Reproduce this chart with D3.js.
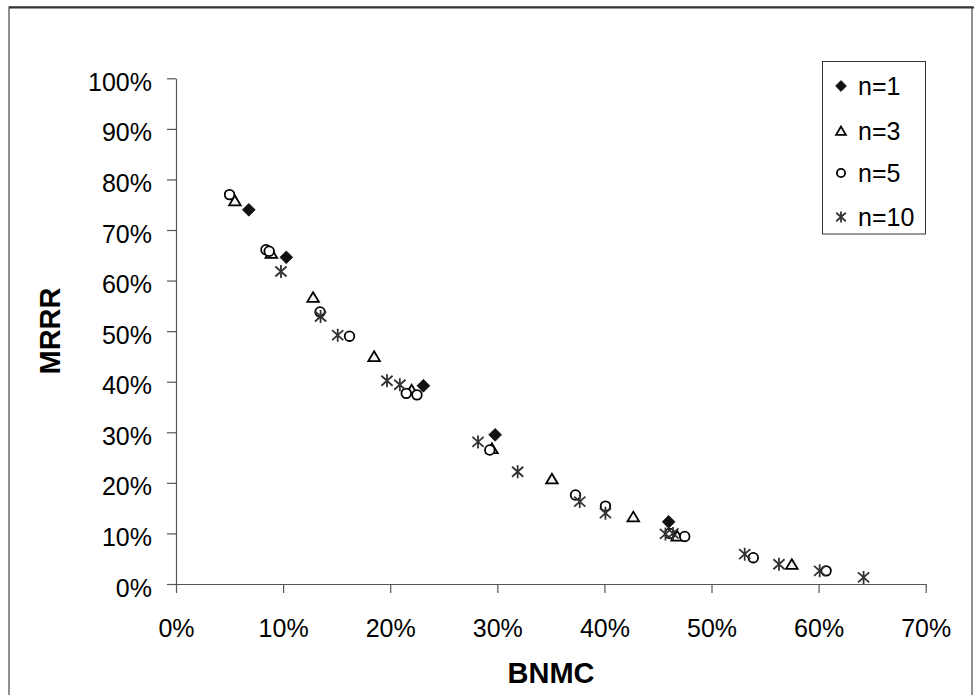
<!DOCTYPE html>
<html><head><meta charset="utf-8">
<script src="https://cdn.jsdelivr.net/npm/d3@7"></script>
<style>body{margin:0;background:#fff}svg{display:block}text{font-family:"Liberation Sans",Arial,sans-serif}</style>
</head><body><svg id="c" width="974" height="695"></svg>
<script>
const xTicks = [0,0.1,0.2,0.3,0.4,0.5,0.6,0.7];
const yTicks = [0,0.1,0.2,0.3,0.4,0.5,0.6,0.7,0.8,0.9,1.0];
const seriesNames = ["n=1","n=3","n=5","n=10"];
const n1 = [[6.8,74.0],[10.3,64.6],[23.1,39.2],[29.8,29.5],[46.0,12.3]];
const n3 = [[5.5,75.8],[8.9,65.4],[12.8,56.7],[18.5,45.0],[22.0,38.4],[29.5,26.8],[35.1,20.8],[42.7,13.3],[46.8,9.5],[57.5,3.9]];
const n5 = [[5.0,77.0],[8.4,66.1],[8.7,65.8],[13.45,53.8],[16.2,49.0],[21.5,37.7],[22.5,37.4],[29.3,26.5],[37.3,17.6],[40.1,15.4],[46.1,10.0],[47.5,9.4],[53.9,5.2],[60.7,2.6]];
const n10 = [[9.8,61.8],[13.5,52.9],[15.1,49.2],[19.7,40.2],[20.9,39.4],[28.2,28.1],[31.9,22.2],[37.7,16.3],[40.1,14.0],[45.7,9.9],[46.4,10.0],[53.1,5.9],[56.3,3.9],[60.1,2.6],[64.2,1.3]];

const svg = d3.select("#c");
// outer frame
svg.append("rect").attr("x",9).attr("y",7).attr("width",963).attr("height",720)
  .attr("fill","none").attr("stroke","#222").attr("stroke-width",1);
svg.append("line").attr("x1",9).attr("x2",974).attr("y1",7.5).attr("y2",7.5).attr("stroke","#333").attr("stroke-width",2);

const x = d3.scaleLinear().domain([0,0.7]).range([176,925.7]);
const y = d3.scaleLinear().domain([0,1]).range([584,78.3]);
const fmt = d3.format(".0%");

const xa = svg.append("g").attr("transform","translate(0,584)")
  .call(d3.axisBottom(x).tickValues(xTicks).tickFormat(fmt).tickSize(9).tickSizeOuter(0));
xa.selectAll("text").attr("font-size",25).attr("fill","#000").attr("dy",null).attr("y",53).attr("font-family","Liberation Sans, Arial, sans-serif");
const ya = svg.append("g").attr("transform","translate(176,0)")
  .call(d3.axisLeft(y).tickValues(yTicks).tickFormat(fmt).tickSize(9).tickSizeOuter(0));
ya.selectAll("text").attr("font-size",25).attr("fill","#000").attr("dy",null).attr("y",12).attr("x",-24).attr("font-family","Liberation Sans, Arial, sans-serif");
svg.selectAll(".domain, .tick line").attr("stroke","#555").attr("stroke-width",1.2);

svg.append("text").attr("x",551).attr("y",683).attr("text-anchor","middle")
  .attr("font-size",29).attr("font-weight","bold").text("BNMC");
svg.append("text").attr("transform","translate(60,331) rotate(-90)").attr("text-anchor","middle")
  .attr("font-size",29).attr("font-weight","bold").text("MRRR");

function marker(g, kind, s){
  s = s || 1;
  if(kind===0){
    const a=6.4*s;
    g.append("path").attr("d",`M0,${-a}L${a},0L0,${a}L${-a},0Z`)
     .attr("fill","#111").attr("stroke","#111").attr("stroke-width",0.8);
  } else if(kind===1){
    const w=5.8*s, h=9.2*s;
    g.append("path").attr("d",`M0,${-h/2-0.5}L${w},${h/2}L${-w},${h/2}Z`)
     .attr("fill","#f4f4f4").attr("stroke","#000").attr("stroke-width",1.8);
  } else if(kind===2){
    g.append("circle").attr("r",4.8*s).attr("fill","#fff").attr("stroke","#000").attr("stroke-width",1.8);
  } else {
    const r=6.5*s, dx=5.6*s, dy=5*s;
    g.append("path").attr("d",`M0,${-r}V${r}M${-dx},${-dy}L${dx},${dy}M${-dx},${dy}L${dx},${-dy}`)
     .attr("stroke","#333").attr("stroke-width",1.8).attr("fill","none");
  }
}

const allSeries = [n1,n3,n5,n10];
allSeries.forEach((data,k)=>{
  const g = svg.append("g");
  data.forEach(d=>{
    const m = g.append("g").attr("transform",`translate(${x(d[0]/100)},${y(d[1]/100)})`);
    marker(m,k,1);
  });
});

// legend
const lg = svg.append("g");
lg.append("rect").attr("x",822.5).attr("y",61.5).attr("width",103).attr("height",172.5)
  .attr("fill","#fff").attr("stroke","#333").attr("stroke-width",1);
const ly = [86,131,173,217];
seriesNames.forEach((nm,i)=>{
  const m = lg.append("g").attr("transform",`translate(841,${ly[i]})`);
  marker(m,i,0.85);
  lg.append("text").attr("x",858).attr("y",ly[i]+8.5).attr("font-size",25).text(nm);
});
</script></body></html>
